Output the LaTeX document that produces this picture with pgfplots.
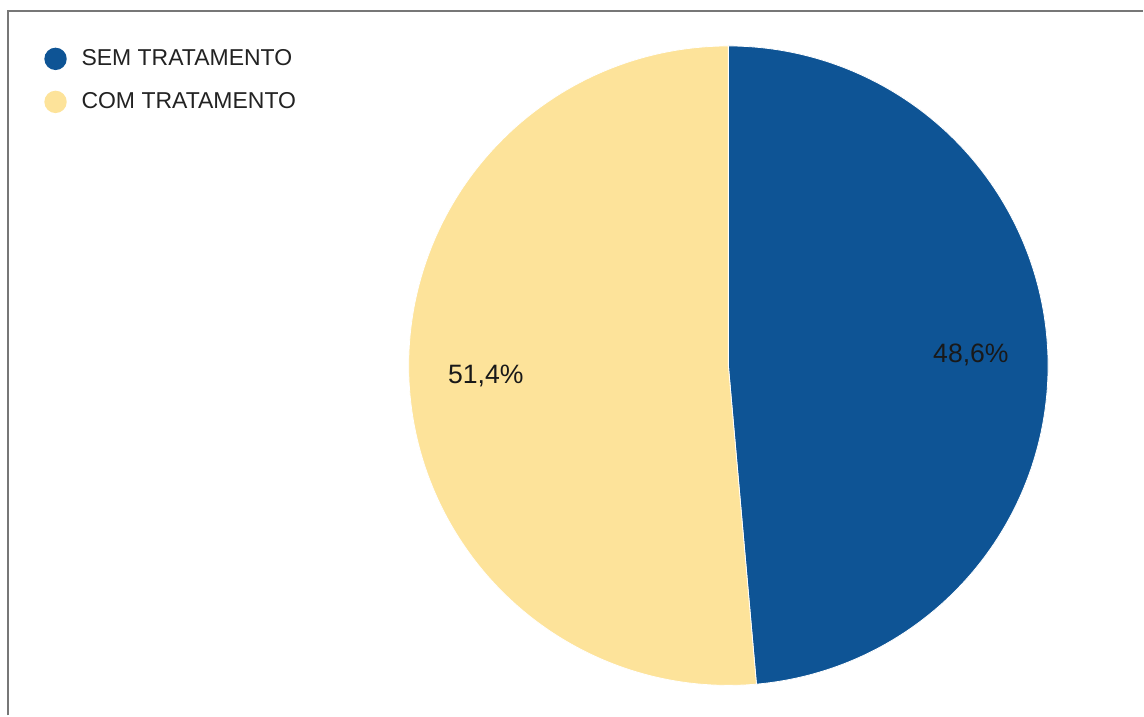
\documentclass[border=0pt]{standalone}
\usepackage{pgfplots}
\pgfplotsset{compat=1.18}
\usepackage{fontspec}
\setmainfont{Liberation Sans}
\definecolor{sem}{HTML}{0E5495}
\definecolor{com}{HTML}{FDE39A}
\definecolor{frame}{HTML}{777777}
\definecolor{txt}{HTML}{222222}
% data: percentages
\def\semval{48.6}
\def\comval{51.4}
\begin{document}
\begin{tikzpicture}
\begin{axis}[
  x=0.5pt, y=0.5pt, scale only axis,
  xmin=0, xmax=1144, ymin=0, ymax=716,
  hide axis, clip=false,
  legend style={at={(axis cs:44,671)}, anchor=north west, draw=none, fill=none,
    font=\fontsize{11.5}{13}\selectfont\color{txt}, row sep=8pt, inner sep=0pt,
    cells={anchor=west}},
  legend image code/.code={\fill[#1, draw=none] (0pt,0pt) circle (5.6pt); \path[draw=none, fill=none] (0pt,0pt) -- (11pt,0pt);},
]
\path (axis cs:0,0) rectangle (axis cs:1144,716);
\pgfmathsetmacro{\semend}{90-\semval*3.6}
\pgfmathsetmacro{\semmid}{90-\semval*1.8}
\pgfmathsetmacro{\comend}{\semend-\comval*3.6}
\pgfmathsetmacro{\commid}{\semend-\comval*1.8}
\addplot[fill=sem, draw=white, line width=0.4pt, domain=90:\semend, samples=200, variable=\t]
  ({729+320*cos(\t)},{350+320*sin(\t)}) -- (axis cs:729,350) -- cycle;
\addplot[fill=com, draw=white, line width=0.4pt, domain=\semend:\comend, samples=200, variable=\t]
  ({729+320*cos(\t)},{350+320*sin(\t)}) -- (axis cs:729,350) -- cycle;
\addlegendimage{sem}
\addlegendentry{SEM TRATAMENTO}
\addlegendimage{com}
\addlegendentry{COM TRATAMENTO}
\node[font=\fontsize{13.3}{15}\selectfont, text=black!90] at (axis cs:{729+243*cos(\semmid)},{350+243*sin(\semmid)}) {48,6\%};
\node[font=\fontsize{13.3}{15}\selectfont, text=black!90] at (axis cs:{729+243*cos(\commid)},{350+243*sin(\commid)}) {51,4\%};
\draw[frame, line width=1pt] (axis cs:8,0) -- (axis cs:8,705) -- (axis cs:1144,705);
\end{axis}
\end{tikzpicture}
\end{document}
